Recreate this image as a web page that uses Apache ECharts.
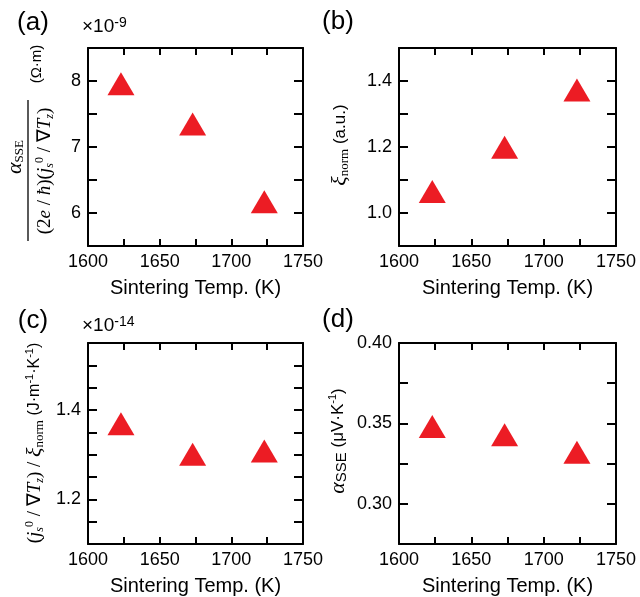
<!DOCTYPE html>
<html>
<head>
<meta charset="utf-8">
<script src="https://cdn.jsdelivr.net/npm/echarts@6/dist/echarts.min.js"></script>
<style>
html,body{margin:0;padding:0;background:#fff;}
#chart{width:640px;height:597px;}
</style>
</head>
<body>
<div id="chart"></div>
<script>
// ---- data ----
const temps = [1623, 1673, 1723];
const aVals = [7.96, 7.35, 6.17];
const bVals = [1.065, 1.199, 1.373];
const cVals = [1.369, 1.301, 1.308];
const dVals = [0.348, 0.343, 0.332];

const xTickLabels = [1600, 1650, 1700, 1750];
const aTickLabels = [6, 7, 8];
const bTickLabels = [1.0, 1.2, 1.4];
const cTickLabels = [1.2, 1.4];
const dTickLabels = [0.30, 0.35, 0.40];

const xTitle = 'Sintering Temp. (K)';

// ---- styles ----
const SANS = 'Liberation Sans, Arial, sans-serif';
const SERIF = 'Liberation Serif, Times New Roman, serif';
const RED = '#ec1c24';

function fmt(list, dec) {
  return function (v) {
    return list.some(t => Math.abs(t - v) < 1e-6) ? v.toFixed(dec) : '';
  };
}

const grids = [
  {left: 88, top: 48, width: 215, height: 198},
  {left: 399, top: 48, width: 217, height: 198},
  {left: 88, top: 343, width: 215, height: 201},
  {left: 399, top: 343, width: 217, height: 201}
];

const yConf = [
  {min: 5.5, max: 8.5, interval: 0.5, labels: aTickLabels, dec: 0},
  {min: 0.9, max: 1.5, interval: 0.1, labels: bTickLabels, dec: 1},
  {min: 1.1, max: 1.55, interval: 0.05, labels: cTickLabels, dec: 1},
  {min: 0.275, max: 0.40, interval: 0.025, labels: dTickLabels, dec: 2}
];

const lineStyle = {color: '#000', width: 2};

const xAxes = [], yAxes = [];
grids.forEach((g, i) => {
  xAxes.push({
    type: 'value', gridIndex: i, position: 'bottom',
    min: 1600, max: 1750, interval: 25,
    axisLine: {show: true, onZero: false, lineStyle},
    axisTick: {show: true, inside: true, length: 7, lineStyle},
    splitLine: {show: false},
    axisLabel: {show: true, margin: 7, fontSize: 18, fontFamily: SANS, color: '#000',
      showMinLabel: true, showMaxLabel: true, formatter: fmt(xTickLabels, 0)},
    name: xTitle, nameLocation: 'middle', nameGap: 32,
    nameTextStyle: {fontSize: 20, fontFamily: SANS, color: '#000'}
  });
  yAxes.push({
    type: 'value', gridIndex: i, position: 'left',
    min: yConf[i].min, max: yConf[i].max, interval: yConf[i].interval,
    axisLine: {show: true, onZero: false, lineStyle},
    axisTick: {show: true, inside: true, length: 9, lineStyle},
    splitLine: {show: false},
    axisLabel: {show: true, margin: 7, fontSize: 18, fontFamily: SANS, color: '#000',
      showMinLabel: true, showMaxLabel: true, formatter: fmt(yConf[i].labels, yConf[i].dec)}
  });
});
grids.forEach((g, i) => {
  xAxes.push({
    type: 'value', gridIndex: i, position: 'top',
    min: 1600, max: 1750, interval: 25,
    axisLine: {show: true, onZero: false, lineStyle},
    axisTick: {show: true, inside: true, length: 7, lineStyle},
    splitLine: {show: false}, axisLabel: {show: false}
  });
  yAxes.push({
    type: 'value', gridIndex: i, position: 'right',
    min: yConf[i].min, max: yConf[i].max, interval: yConf[i].interval,
    axisLine: {show: true, onZero: false, lineStyle},
    axisTick: {show: true, inside: true, length: 9, lineStyle},
    splitLine: {show: false}, axisLabel: {show: false}
  });
});

const allVals = [aVals, bVals, cVals, dVals];
const series = allVals.map((vals, i) => ({
  type: 'scatter', xAxisIndex: i, yAxisIndex: i,
  symbol: 'triangle', symbolSize: [27, 23],
  itemStyle: {color: RED, opacity: 1},
  data: temps.map((t, k) => [t, vals[k]])
}));

// rich styles for math titles
const LH = 22;
const rich = {
  n: {fontFamily: SERIF, fontSize: 19, lineHeight: LH, color: '#000'},
  it: {fontFamily: SERIF, fontSize: 19, fontStyle: 'italic', lineHeight: LH, color: '#000'},
  big: {fontFamily: SERIF, fontSize: 22, fontStyle: 'italic', lineHeight: LH, color: '#000'},
  sub: {fontFamily: SERIF, fontSize: 13, lineHeight: 12, verticalAlign: 'bottom', color: '#000'},
  subit: {fontFamily: SERIF, fontSize: 12, fontStyle: 'italic', lineHeight: 12, verticalAlign: 'bottom', color: '#000'},
  sup: {fontFamily: SERIF, fontSize: 12, lineHeight: 12, verticalAlign: 'top', color: '#000'},
  s: {fontFamily: SANS, fontSize: 17, lineHeight: LH, color: '#000'},
  sc: {fontFamily: SANS, fontSize: 16, lineHeight: LH, color: '#000'},
  so: {fontFamily: SANS, fontSize: 15, lineHeight: LH, color: '#000'},
  ssub: {fontFamily: SANS, fontSize: 15, lineHeight: 12, verticalAlign: 'bottom', color: '#000'},
  ssup: {fontFamily: SANS, fontSize: 11, lineHeight: 14, verticalAlign: 'top', color: '#000'}
};

function vtext(x, y, text) {
  return {
    type: 'text', x: x, y: y, rotation: Math.PI / 2,
    style: {text: text, rich: rich, textAlign: 'center', textVerticalAlign: 'middle', fill: '#000'}
  };
}
function htext(x, y, text, size) {
  return {
    type: 'text', x: x, y: y,
    style: {text: text, font: size + 'px ' + SANS, textAlign: 'center', textVerticalAlign: 'middle', fill: '#000'}
  };
}
function expo(x, y, exp) {
  return {
    type: 'text', x: x, y: y,
    style: {
      text: '{m|×10}{e|' + exp + '}',
      textAlign: 'left', textVerticalAlign: 'middle',
      rich: {
        m: {fontFamily: SANS, fontSize: 19, lineHeight: 22, color: '#000'},
        e: {fontFamily: SANS, fontSize: 14, lineHeight: 14, verticalAlign: 'top', color: '#000'}
      }
    }
  };
}

const graphic = [
  htext(33, 23, '(a)', 26),
  htext(338, 22, '(b)', 26),
  htext(33, 321, '(c)', 26),
  htext(338, 320, '(d)', 26),
  expo(82, 27, '-9'),
  expo(82, 326, '-14'),
  // (a) y title: fraction
  vtext(15, 157, '{big|α}{sub|SSE}'),
  {type: 'line', shape: {x1: 28, y1: 100, x2: 28, y2: 241}, style: {stroke: '#000', lineWidth: 1.3}},
  vtext(45, 171, '{n|(2}{it|e}{n| / }{it|ħ}{n|)(}{it|j}{subit|s}{sup|0}{n| / ∇}{it|T}{subit|z}{n|)}'),
  vtext(37, 64, '{so|(Ω·m)}'),
  // (b)
  vtext(340, 145, '{big|ξ}{sub|norm}{s| (a.u.)}'),
  // (c)
  vtext(35, 443, '{n|(}{it|j}{subit|s}{sup|0}{n| / ∇}{it|T}{subit|z}{n|) / }{big|ξ}{sub|norm}{sc| (J·m}{ssup|-1}{sc|·K}{ssup|-1}{sc|)}'),
  // (d)
  vtext(338, 441, '{big|α}{ssub|SSE}{s| (μV·K}{ssup|-1}{s|)}')
];

const chart = echarts.init(document.getElementById('chart'), null, {renderer: 'canvas'});
chart.setOption({
  animation: false,
  backgroundColor: '#fff',
  grid: grids,
  xAxis: xAxes,
  yAxis: yAxes,
  series: series,
  graphic: graphic
});
</script>
</body>
</html>
